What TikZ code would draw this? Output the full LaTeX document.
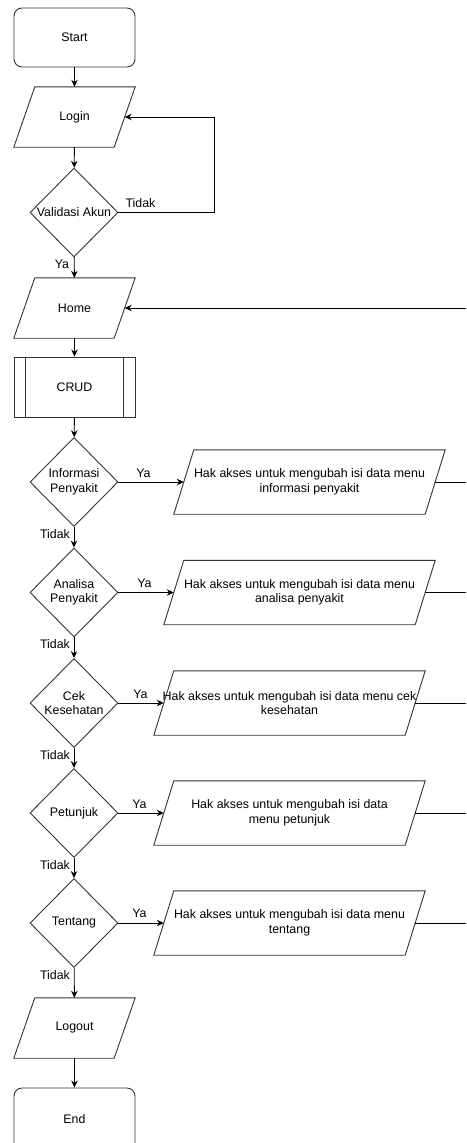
\documentclass[tikz,border=0pt]{standalone}
\usepackage{fontspec}
\setmainfont{Liberation Sans}
\usetikzlibrary{shapes.geometric,arrows.meta,calc}

% parallelogram drawn around a named rectangle node; #2 = horizontal skew
% also defines the mid points of its slanted sides as (#1-l) and (#1-r)
\newcommand\drawpara[2]{%
  \draw[shapeline] ([xshift=#2pt]#1.north west) -- (#1.north east)
    -- ([xshift=-#2pt]#1.south east) -- (#1.south west) -- cycle;
  \coordinate (#1-l) at ([xshift=#2*0.5pt]#1.west);
  \coordinate (#1-r) at ([xshift=-#2*0.5pt]#1.east);
}

\begin{document}
\begin{tikzpicture}[x=1pt,y=-1pt,
  every node/.style={font=\fontsize{12.4}{14.5}\selectfont, text=black},
  shapeline/.style={draw=black!80, line width=0.9pt},
  term/.style={rectangle, rounded corners=8pt, shapeline, minimum width=121pt, minimum height=59pt, inner sep=0pt},
  iobox/.style={rectangle, minimum width=121pt, minimum height=60pt, inner sep=0pt, align=center},
  wide/.style={rectangle, minimum width=271pt, minimum height=64pt, inner sep=0pt, align=center},
  proc/.style={rectangle, shapeline, minimum width=121pt, minimum height=60pt, inner sep=0pt},
  decision/.style={diamond, shapeline, minimum width=88pt, minimum height=89pt, inner sep=0pt, align=center},
  flow/.style={draw=black, line width=0.9pt, -{Stealth[length=7pt,width=6.5pt]}},
  link/.style={draw=black, line width=0.9pt},
  lbl/.style={inner sep=0pt}
]
\useasboundingbox[fill=white] (0,0) rectangle (466,1143);

% main column
\node[term] (start) at (74.5,37.5) {Start};
\node[iobox] (login) at (74.5,117) {Login};
\drawpara{login}{21}
\node[decision] (val) at (74,212.5) {Validasi Akun};
\node[iobox] (home) at (74.5,308) {Home};
\drawpara{home}{21}
\node[proc] (crud) at (74.5,387) {CRUD};
\draw[shapeline] ([xshift=12pt]crud.north west) -- ([xshift=12pt]crud.south west);
\draw[shapeline] ([xshift=-12pt]crud.north east) -- ([xshift=-12pt]crud.south east);

\node[decision] (d1) at (74,482) {Informasi\\Penyakit};
\node[decision] (d2) at (74,592.5) {Analisa\\Penyakit};
\node[decision] (d3) at (74,703) {Cek\\Kesehatan};
\node[decision] (d4) at (74,813) {Petunjuk};
\node[decision] (d5) at (74,923) {Tentang};

\node[iobox] (logout) at (74.5,1028) {Logout};
\drawpara{logout}{21}
% the end box runs past the lower edge of the page
\node[term, minimum height=72pt, text depth=10pt] (end) at (74.5,1124) {End};

% access boxes
\node[wide] (b1) at (309.5,482) {Hak akses untuk mengubah isi data menu\\informasi penyakit};
\drawpara{b1}{20}
\node[wide] (b2) at (299.5,592.5) {Hak akses untuk mengubah isi data menu\\analisa penyakit};
\drawpara{b2}{20}
\node[wide] (b3) at (289.5,703) {Hak akses untuk mengubah isi data menu cek\\kesehatan};
\drawpara{b3}{20}
\node[wide] (b4) at (289.5,813) {Hak akses untuk mengubah isi data\\menu petunjuk};
\drawpara{b4}{20}
\node[wide] (b5) at (289.5,923) {Hak akses untuk mengubah isi data menu\\tentang};
\drawpara{b5}{20}

% return line towards Home, running off at the right
\coordinate (r0) at (466,308);
\coordinate (r1) at (466,482);
\coordinate (r2) at (466,592.5);
\coordinate (r3) at (466,703);
\coordinate (r4) at (466,813);
\coordinate (r5) at (466,923);
\coordinate (loop) at (214,117);

% connectors
\draw[flow] (start) -- (login);
\draw[flow] (login) -- (val);
\draw[flow] (val.east) -| (loop) -- (login-r);
\draw[flow] (val) -- (home);
\draw[flow] (r0) -- (home-r);
\draw[flow] (home) -- (crud);
\draw[flow] (crud) -- (d1);
\draw[flow] (d1) -- (d2);
\draw[flow] (d2) -- (d3);
\draw[flow] (d3) -- (d4);
\draw[flow] (d4) -- (d5);
\draw[flow] (d5) -- (logout);
\draw[flow] (logout) -- (end);

\foreach \i in {1,...,5} {
  \draw[flow] (d\i.east) -- (b\i-l);
  \draw[link] (b\i-r) -- (r\i);
}

% branch labels
\node[lbl] (vno) at ($(val.east)+(22,-9.5)$) {Tidak};
\node[lbl] (vyes) at ($(val.south)+(-12,7)$) {Ya};
\node[lbl] (y1) at ($(d1.east)+(25,-9)$) {Ya};
\node[lbl] (y2) at ($(d2.east)+(26,-9)$) {Ya};
\node[lbl] (y3) at ($(d3.east)+(22,-9)$) {Ya};
\node[lbl] (y4) at ($(d4.east)+(21,-9)$) {Ya};
\node[lbl] (y5) at ($(d5.east)+(21,-10)$) {Ya};
\node[lbl] (n1) at ($(d1.south)+(-19,7)$) {Tidak};
\node[lbl] (n2) at ($(d2.south)+(-19,7)$) {Tidak};
\node[lbl] (n3) at ($(d3.south)+(-19,7)$) {Tidak};
\node[lbl] (n4) at ($(d4.south)+(-19,7)$) {Tidak};
\node[lbl] (n5) at ($(d5.south)+(-19,7)$) {Tidak};
\end{tikzpicture}
\end{document}
